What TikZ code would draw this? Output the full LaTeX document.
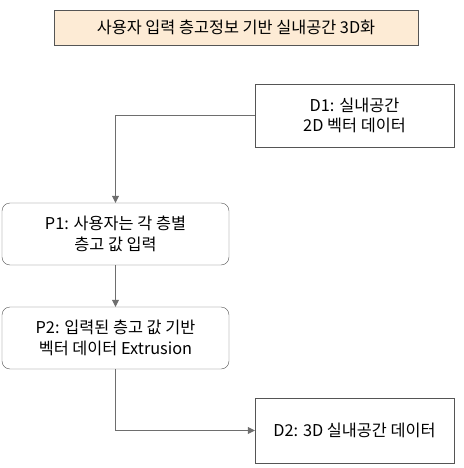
\documentclass[tikz,border=0pt]{standalone}
\usepackage{fontspec}
\setmainfont{Noto Sans CJK KR}
\usetikzlibrary{positioning,arrows.meta}
\definecolor{titlefill}{HTML}{FDEBD5}
\definecolor{linegray}{HTML}{555555}
\begin{document}
\begin{tikzpicture}[x=1pt,y=-1pt,font=\fontsize{16.3}{20.5}\selectfont]
        \useasboundingbox (0,0) rectangle (463,468);
        \begin{scope}[every node/.style={draw=linegray,align=center,inner sep=0pt}]
            \node[fill=titlefill,minimum width=364pt,minimum height=35pt] (title) at (236,27.5) {사용자 입력 층고정보 기반 실내공간 3D화};
            \node[minimum width=199pt,minimum height=63pt] (d1) at (354.5,115.5) {D1: 실내공간\\2D 벡터 데이터};
            \node[rounded corners=8pt,minimum width=227pt,minimum height=62pt] (p1) at (115.5,234) {P1: 사용자는 각 층별\\층고 값 입력};
            \node[rounded corners=8pt,minimum width=227pt,minimum height=62pt] (p2) at (115.5,338) {P2: 입력된 층고 값 기반\\벡터 데이터 Extrusion};
            \node[minimum width=199pt,minimum height=65pt] (d2) at (354.5,430.5) {D2: 3D 실내공간 데이터};
        \end{scope}
        \begin{scope}[every path/.style={draw=linegray!85,-{Triangle[length=7pt,width=7pt]}}]
            \draw (d1.west) -| (p1.north);
            \draw (p1) -- (p2);
            \draw (p2.south) |- (d2.west);
        \end{scope}
    \end{tikzpicture}
\end{document}
